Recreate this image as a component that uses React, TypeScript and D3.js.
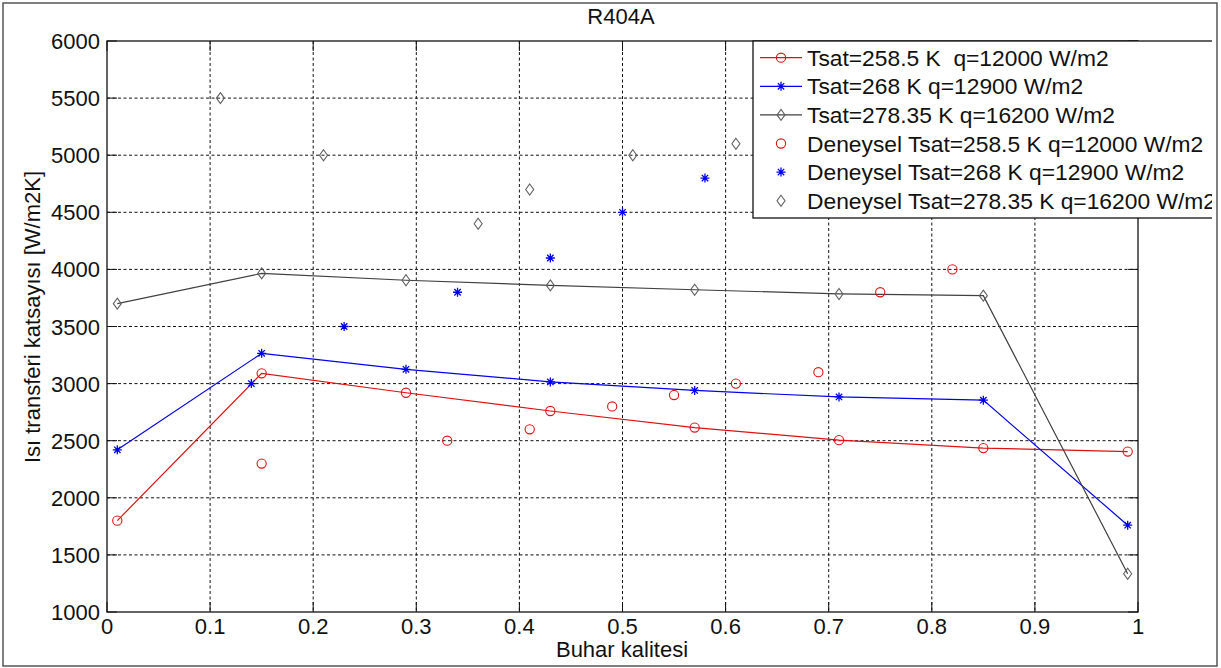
import React from "react";
import * as d3 from "d3";

const modelX = [0.01, 0.15, 0.29, 0.43, 0.57, 0.71, 0.85, 0.99];
const redModel = [1800, 3090, 2920, 2760, 2615, 2505, 2435, 2405];
const blueModel = [2420, 3265, 3125, 3015, 2940, 2883, 2855, 1760];
const blackModel = [3700, 3965, 3905, 3860, 3822, 3785, 3770, 1335];

const redExpX = [0.15, 0.33, 0.41, 0.49, 0.55, 0.61, 0.69, 0.75, 0.82];
const redExpY = [2300, 2500, 2600, 2800, 2900, 3000, 3100, 3800, 4000];
const blueExpX = [0.14, 0.23, 0.34, 0.43, 0.5, 0.58];
const blueExpY = [3000, 3500, 3800, 4100, 4500, 4800];
const blackExpX = [0.11, 0.21, 0.36, 0.41, 0.51, 0.61];
const blackExpY = [5500, 5000, 4400, 4700, 5000, 5100];

const xTicks = [0, 0.1, 0.2, 0.3, 0.4, 0.5, 0.6, 0.7, 0.8, 0.9, 1];
const xTickLabels = ["0", "0.1", "0.2", "0.3", "0.4", "0.5", "0.6", "0.7", "0.8", "0.9", "1"];
const yTicks = [1000, 1500, 2000, 2500, 3000, 3500, 4000, 4500, 5000, 5500, 6000];
const yTickLabels = ["1000", "1500", "2000", "2500", "3000", "3500", "4000", "4500", "5000", "5500", "6000"];

const legendLabels = [
  "Tsat=258.5 K  q=12000 W/m2",
  "Tsat=268 K q=12900 W/m2",
  "Tsat=278.35 K q=16200 W/m2",
  "Deneysel Tsat=258.5 K q=12000 W/m2",
  "Deneysel Tsat=268 K q=12900 W/m2",
  "Deneysel Tsat=278.35 K q=16200 W/m2",
];

const FONT = "'Liberation Sans', Arial, sans-serif";
const RED = "#e01010";
const BLUE = "#0000ee";
const BLACK_LINE = "#404040";
const DIAMOND = "#606060";

const W = 1221;
const H = 668;
const L = 107, R = 1138, T = 41, B = 612;

const x = d3.scaleLinear().domain([0, 1]).range([L, R]);
const y = d3.scaleLinear().domain([1000, 6000]).range([B, T]);

const starPath = "M-4.5,0H4.5M0,-4.5V4.5M-3.2,-3.2L3.2,3.2M-3.2,3.2L3.2,-3.2";
const diamondPath = "M0,-5.5L4,0L0,5.5L-4,0Z";

type Kind = "circle" | "star" | "diamond";

function Marker({ kind, cx, cy }: { kind: Kind; cx: number; cy: number }) {
  if (kind === "circle")
    return <circle cx={cx} cy={cy} r={4.6} fill="none" stroke={RED} strokeWidth={1.1} />;
  if (kind === "star")
    return <path d={starPath} transform={`translate(${cx},${cy})`} stroke={BLUE} strokeWidth={1.3} fill="none" />;
  return <path d={diamondPath} transform={`translate(${cx},${cy})`} stroke={DIAMOND} strokeWidth={1.1} fill="none" />;
}

export default function App() {
  const line = d3
    .line<[number, number]>()
    .x((d) => x(d[0]))
    .y((d) => y(d[1]));

  const models: { vals: number[]; color: string; kind: Kind }[] = [
    { vals: redModel, color: RED, kind: "circle" },
    { vals: blueModel, color: BLUE, kind: "star" },
    { vals: blackModel, color: BLACK_LINE, kind: "diamond" },
  ];
  const exps: { xs: number[]; ys: number[]; kind: Kind }[] = [
    { xs: redExpX, ys: redExpY, kind: "circle" },
    { xs: blueExpX, ys: blueExpY, kind: "star" },
    { xs: blackExpX, ys: blackExpY, kind: "diamond" },
  ];

  const legX = 753, legY = 41, legB = 218, legR = 1240;
  const rowY = (i: number) => 57.7 + i * 28.6;
  const legendKinds: Kind[] = ["circle", "star", "diamond", "circle", "star", "diamond"];
  const legendColors = [RED, BLUE, BLACK_LINE, null, null, null];

  return (
    <svg
      width={W}
      height={H}
      style={{ position: "absolute", left: 0, top: 0, background: "#fff" }}
      fontFamily={FONT}
    >
      <defs>
        <clipPath id="legclip">
          <rect x={0} y={0} width={1212} height={H} />
        </clipPath>
      </defs>
      <rect x={0} y={0} width={W} height={H} fill="#fff" />

      {/* grid */}
      <g stroke="#111" strokeWidth={1} strokeDasharray="3,2.5">
        {xTicks.slice(1, -1).map((t) => (
          <line key={"gx" + t} x1={x(t)} x2={x(t)} y1={T} y2={B} />
        ))}
        {yTicks.slice(1, -1).map((t) => (
          <line key={"gy" + t} x1={L} x2={R} y1={y(t)} y2={y(t)} />
        ))}
      </g>

      {/* ticks */}
      <g stroke="#111" strokeWidth={1}>
        {xTicks.map((t) => (
          <g key={"tx" + t}>
            <line x1={x(t)} x2={x(t)} y1={B} y2={B - 10} />
            <line x1={x(t)} x2={x(t)} y1={T} y2={T + 10} />
          </g>
        ))}
        {yTicks.map((t) => (
          <g key={"ty" + t}>
            <line x1={L} x2={L + 10} y1={y(t)} y2={y(t)} />
            <line x1={R} x2={R - 10} y1={y(t)} y2={y(t)} />
          </g>
        ))}
      </g>

      {/* model lines */}
      {models.map((m, i) => (
        <g key={"m" + i}>
          <path
            d={line(modelX.map((v, j) => [v, m.vals[j]] as [number, number])) || ""}
            fill="none"
            stroke={m.color}
            strokeWidth={1.2}
          />
          {modelX.map((v, j) => (
            <Marker key={j} kind={m.kind} cx={x(v)} cy={y(m.vals[j])} />
          ))}
        </g>
      ))}

      {/* experimental */}
      {exps.map((e, i) => (
        <g key={"e" + i}>
          {e.xs.map((v, j) => (
            <Marker key={j} kind={e.kind} cx={x(v)} cy={y(e.ys[j])} />
          ))}
        </g>
      ))}

      {/* axes box */}
      <rect x={L} y={T} width={R - L} height={B - T} fill="none" stroke="#111" strokeWidth={1.3} />

      {/* tick labels */}
      <g fontSize={22} fill="#111">
        {xTicks.map((t, i) => (
          <text key={"lx" + t} x={x(t)} y={634} textAnchor="middle">
            {xTickLabels[i]}
          </text>
        ))}
        {yTicks.map((t, i) => (
          <text key={"ly" + t} x={100} y={y(t) + 8} textAnchor="end">
            {yTickLabels[i]}
          </text>
        ))}
      </g>

      {/* titles */}
      <text x={621} y={24} textAnchor="middle" fontSize={22} fill="#111">
        R404A
      </text>
      <text x={622} y={657} textAnchor="middle" fontSize={22} fill="#111">
        Buhar kalitesi
      </text>
      <text
        transform={`translate(40,317) rotate(-90)`}
        textAnchor="middle"
        fontSize={22}
        fill="#111"
      >
        Isı transferi katsayısı [W/m2K]
      </text>

      {/* legend */}
      <g clipPath="url(#legclip)">
        <rect x={legX} y={legY} width={legR - legX} height={legB - legY} fill="#fff" stroke="#111" strokeWidth={1.3} />
        {legendLabels.map((lab, i) => (
          <g key={"leg" + i}>
            {legendColors[i] && (
              <line x1={760} x2={802} y1={rowY(i)} y2={rowY(i)} stroke={legendColors[i] as string} strokeWidth={1.2} />
            )}
            <Marker kind={legendKinds[i]} cx={781} cy={rowY(i)} />
            <text x={807} y={rowY(i) + 8} fontSize={22.8} fill="#111" style={{ whiteSpace: "pre" }}>
              {lab}
            </text>
          </g>
        ))}
      </g>

      {/* outer frame */}
      <rect x={3} y={3} width={1214} height={663} fill="none" stroke="#555" strokeWidth={1.5} />
    </svg>
  );
}
